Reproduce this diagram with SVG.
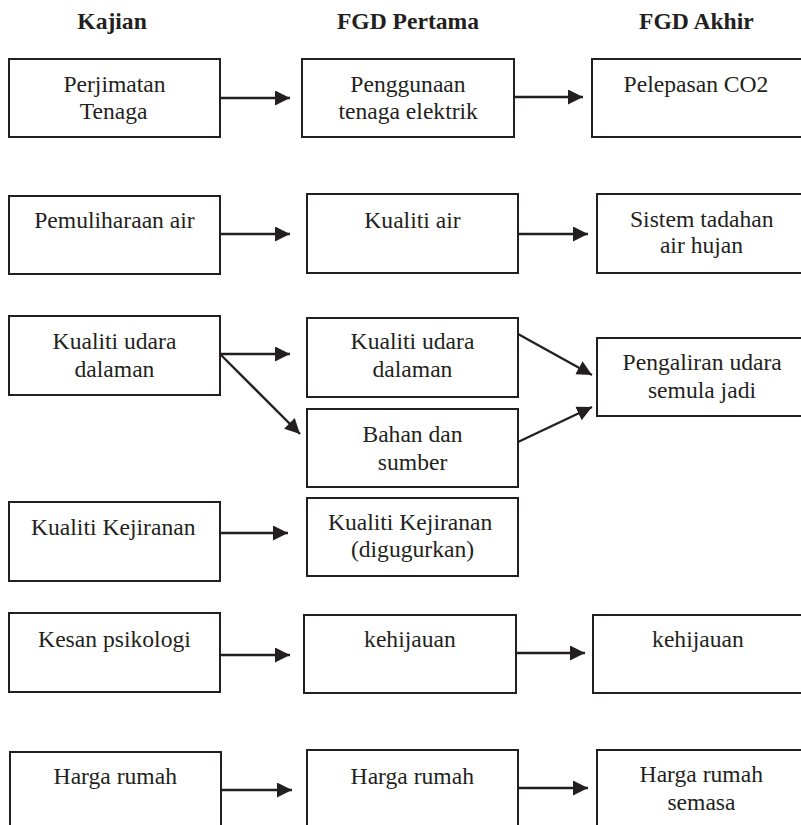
<svg xmlns="http://www.w3.org/2000/svg" width="801" height="825" viewBox="0 0 801 825">
<defs>
<marker id="ah" markerUnits="userSpaceOnUse" markerWidth="16" markerHeight="16" refX="15" refY="7.5" orient="auto">
<path d="M0,0 L15,7.5 L0,15 z" fill="#231f20"/>
</marker>
</defs>
<rect width="801" height="825" fill="#fff"/>
<g id="headers" font-family="Times New Roman" font-size="23.6" font-weight="bold" fill="#231f20">
<text x="77.3" y="29">Kajian</text>
<text x="336.9" y="29">FGD Pertama</text>
<text x="639" y="29">FGD Akhir</text>
</g>
<g id="nodes" font-family="Times New Roman" font-size="23.6" fill="#231f20">
<g id="n1"><rect fill="#fff" stroke="#231f20" stroke-width="2" x="9" y="59" width="211" height="78"/><text x="63.4" y="92">Perjimatan</text><text x="79.8" y="119">Tenaga</text></g>
<g id="n2"><rect fill="#fff" stroke="#231f20" stroke-width="2" x="302" y="59" width="212" height="78"/><text x="350.3" y="92">Penggunaan</text><text x="338.4" y="119">tenaga elektrik</text></g>
<g id="n3"><rect fill="#fff" stroke="#231f20" stroke-width="2" x="592" y="59" width="212" height="78"/><text x="623.6" y="92">Pelepasan CO2</text></g>
<g id="n4"><rect fill="#fff" stroke="#231f20" stroke-width="2" x="9" y="196" width="211" height="78"/><text x="34.2" y="228">Pemuliharaan air</text></g>
<g id="n5"><rect fill="#fff" stroke="#231f20" stroke-width="2" x="307" y="194" width="211" height="79"/><text x="364.3" y="228">Kualiti air</text></g>
<g id="n6"><rect fill="#fff" stroke="#231f20" stroke-width="2" x="597" y="194" width="207" height="79"/><text x="630" y="227">Sistem tadahan</text><text x="659.9" y="253">air hujan</text></g>
<g id="n7"><rect fill="#fff" stroke="#231f20" stroke-width="2" x="9" y="316" width="211" height="79"/><text x="52.6" y="349">Kualiti udara</text><text x="74.5" y="377">dalaman</text></g>
<g id="n8"><rect fill="#fff" stroke="#231f20" stroke-width="2" x="307" y="318" width="211" height="79"/><text x="350.6" y="349">Kualiti udara</text><text x="372.5" y="377">dalaman</text></g>
<g id="n9"><rect fill="#fff" stroke="#231f20" stroke-width="2" x="307" y="409" width="211" height="78"/><text x="362.4" y="442">Bahan dan</text><text x="377.8" y="470">sumber</text></g>
<g id="n10"><rect fill="#fff" stroke="#231f20" stroke-width="2" x="597" y="338" width="207" height="78"/><text x="622.6" y="370">Pengaliran udara</text><text x="647.9" y="398">semula jadi</text></g>
<g id="n11"><rect fill="#fff" stroke="#231f20" stroke-width="2" x="9" y="502" width="211" height="79"/><text x="31" y="535">Kualiti Kejiranan</text></g>
<g id="n12"><rect fill="#fff" stroke="#231f20" stroke-width="2" x="307" y="498" width="211" height="78"/><text x="327.9" y="530">Kualiti Kejiranan</text><text x="350.9" y="557">(digugurkan)</text></g>
<g id="n13"><rect fill="#fff" stroke="#231f20" stroke-width="2" x="9" y="613" width="211" height="79"/><text x="38.1" y="647">Kesan psikologi</text></g>
<g id="n14"><rect fill="#fff" stroke="#231f20" stroke-width="2" x="304" y="615" width="212" height="78"/><text x="364.1" y="647">kehijauan</text></g>
<g id="n15"><rect fill="#fff" stroke="#231f20" stroke-width="2" x="593" y="615" width="211" height="78"/><text x="652.1" y="647">kehijauan</text></g>
<g id="n16"><rect fill="#fff" stroke="#231f20" stroke-width="2" x="10" y="752" width="211" height="80"/><text x="53.6" y="784">Harga rumah</text></g>
<g id="n17"><rect fill="#fff" stroke="#231f20" stroke-width="2" x="307" y="750" width="211" height="82"/><text x="350.6" y="784">Harga rumah</text></g>
<g id="n18"><rect fill="#fff" stroke="#231f20" stroke-width="2" x="597" y="750" width="207" height="82"/><text x="639.6" y="782">Harga rumah</text><text x="667.4" y="810">semasa</text></g>
</g>
<g id="connectors" stroke="#231f20" stroke-width="2.3" fill="none" marker-end="url(#ah)">
<line x1="220" y1="98" x2="290" y2="98"/>
<line x1="514" y1="97" x2="583" y2="97"/>
<line x1="220" y1="234" x2="290" y2="234"/>
<line x1="518" y1="234" x2="588" y2="234"/>
<line x1="220" y1="354" x2="290" y2="354"/>
<line x1="220" y1="354" x2="300" y2="434"/>
<line x1="518" y1="334" x2="592" y2="375"/>
<line x1="518" y1="442" x2="592" y2="407"/>
<line x1="220" y1="533" x2="288" y2="533"/>
<line x1="220" y1="655" x2="290" y2="655"/>
<line x1="516" y1="653" x2="585" y2="653"/>
<line x1="221" y1="790" x2="292" y2="790"/>
<line x1="518" y1="788" x2="588" y2="788"/>
</g>
</svg>
